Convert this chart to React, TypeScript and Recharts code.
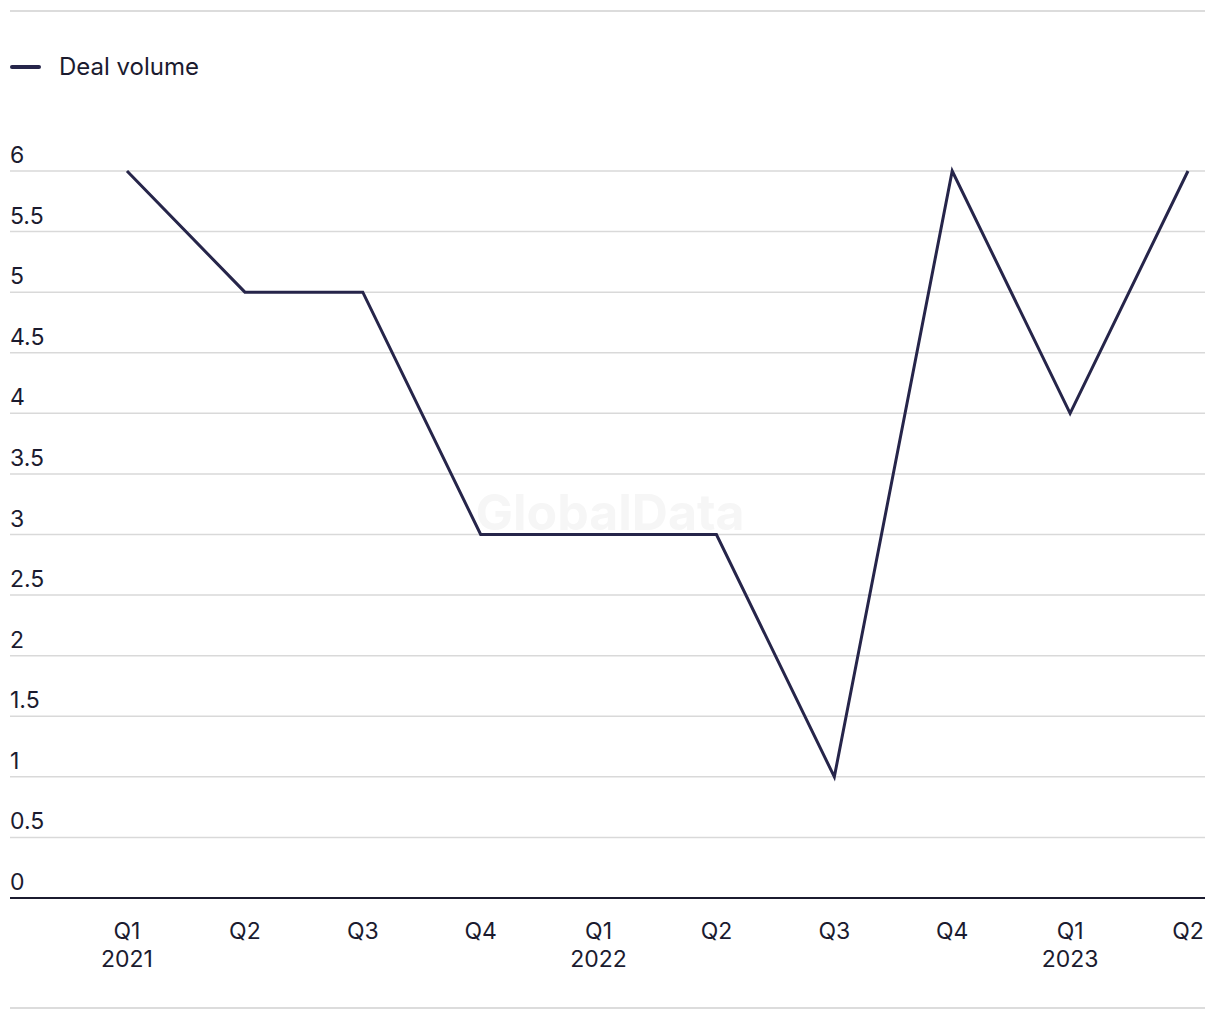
import { LineChart, Line, XAxis, YAxis, CartesianGrid } from "recharts";

const quarters = ["Q1", "Q2", "Q3", "Q4", "Q1", "Q2", "Q3", "Q4", "Q1", "Q2"];
const years = ["2021", "", "", "", "2022", "", "", "", "2023", ""];
const dealVolume = [6, 5, 5, 3, 3, 3, 1, 6, 4, 6];
const yTicks = [0, 0.5, 1, 1.5, 2, 2.5, 3, 3.5, 4, 4.5, 5, 5.5, 6];

const FONT = "Inter, 'Liberation Sans', sans-serif";
const INK = "#1b1b2f";
const LINE = "#26254a";

const data = quarters.map((q, i) => ({
  key: i,
  quarter: q,
  year: years[i],
  value: dealVolume[i],
}));

const YTick = ({ y, payload }: any) => (
  <text x={2} y={y - 8} fill={INK} fontSize={23} fontFamily={FONT} textAnchor="start">
    {payload.value}
  </text>
);

const XTick = ({ x, y, payload }: any) => {
  const row = data[payload.value];
  return (
    <g>
      <text x={x} y={y + 33} fill={INK} fontSize={23} fontFamily={FONT} textAnchor="middle">
        {row.quarter}
      </text>
      {row.year && (
        <text x={x} y={y + 61} fill={INK} fontSize={23} fontFamily={FONT} textAnchor="middle">
          {row.year}
        </text>
      )}
    </g>
  );
};

export default function App() {
  return (
    <div style={{ position: "relative", width: 1204, height: 1004, fontFamily: FONT }}>
      <div style={{ position: "absolute", left: 2, top: 2, width: 1195, height: 2, background: "#dcdcdc" }} />
      <div style={{ position: "absolute", left: 2, top: 999, width: 1195, height: 2, background: "#dcdcdc" }} />
      <div
        style={{ position: "absolute", left: 2, top: 44, display: "flex", alignItems: "center", gap: 18, color: INK, fontSize: 24 }}
      >
        <span style={{ display: "inline-block", width: 31, height: 4, background: LINE, borderRadius: 2 }} />
        <span>Deal volume</span>
      </div>
      <div
        style={{ position: "absolute", left: 0, width: 1204, top: 474, textAlign: "center", fontSize: 50, fontWeight: 700, color: "#f6f6f6" }}
      >
        GlobalData
      </div>
      <div style={{ position: "absolute", left: 0, top: 0 }}>
        <LineChart width={1204} height={1000} data={data} margin={{ top: 163, right: 7, bottom: 0, left: 1 }}>
          <CartesianGrid vertical={false} stroke="#d9d9d9" strokeWidth={1.5} />
          <XAxis
            dataKey="key"
            type="category"
            padding={{ left: 117, right: 17 }}
            axisLine={{ stroke: INK, strokeWidth: 2 }}
            tickLine={false}
            tick={<XTick />}
            height={110}
            interval={0}
          />
          <YAxis
            domain={[0, 6]}
            ticks={yTicks}
            width={1}
            axisLine={false}
            tickLine={false}
            tick={<YTick />}
            interval={0}
          />
          <Line
            type="linear"
            dataKey="value"
            stroke={LINE}
            strokeWidth={3}
            dot={false}
            activeDot={false}
            isAnimationActive={false}
          />
        </LineChart>
      </div>
    </div>
  );
}
